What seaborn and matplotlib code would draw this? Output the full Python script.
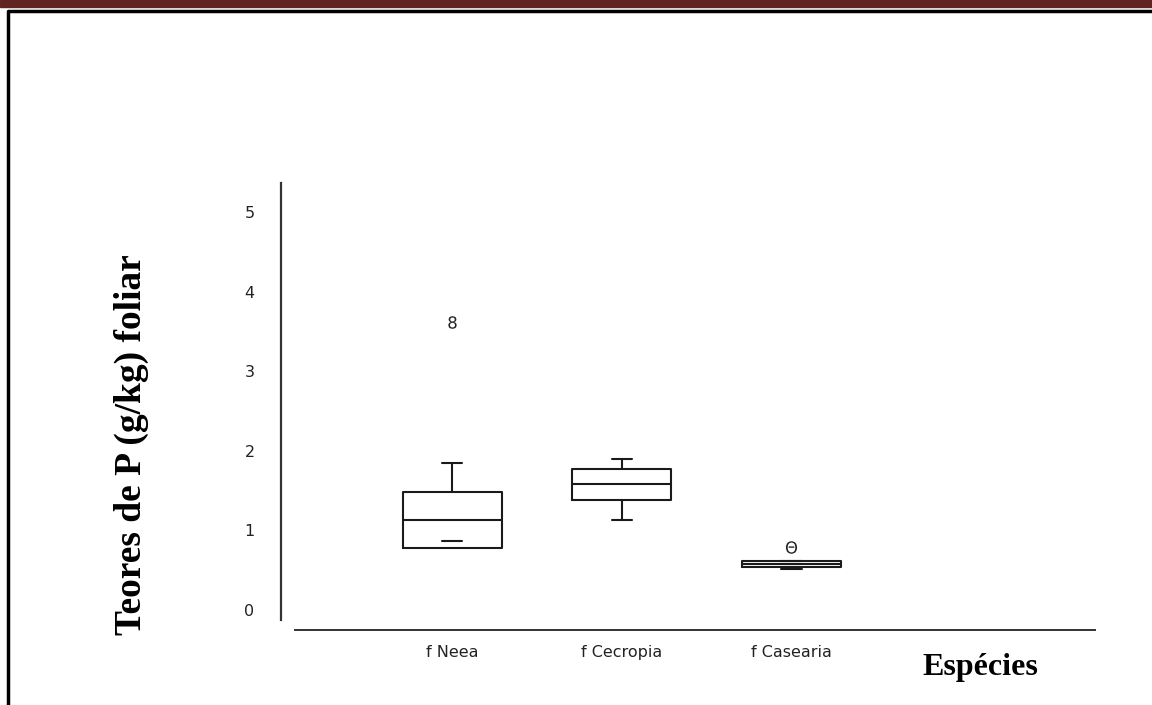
import matplotlib
matplotlib.use('Agg')
import matplotlib.pyplot as plt
import seaborn as sns
from matplotlib.lines import Line2D
from matplotlib.patches import Rectangle

# Box summary values (g/kg)
species = ['f Neea', 'f Cecropia', 'f Casearia']
q1 = [0.78, 1.38, 0.54]
median = [1.13, 1.58, 0.58]
q3 = [1.48, 1.77, 0.62]
whis_low = [0.87, 1.13, 0.52]
whis_high = [1.85, 1.90, 0.62]
outliers = [[3.62], [], [0.79]]
outlier_marks = ['$8$', 'o', r'$\Theta$']

y_ticks = [0, 1, 2, 3, 4, 5]

sns.set_style('white')
plt.rcParams['font.family'] = ['DejaVu Sans']

fig = plt.figure(figsize=(11.52, 7.05), dpi=100)
ax = fig.add_axes([281 / 1152, (705 - 620) / 705, (1095 - 281) / 1152, (620 - 183) / 705])

stats = []
for i in range(len(species)):
    stats.append({'label': species[i], 'q1': q1[i], 'med': median[i], 'q3': q3[i],
                  'whislo': whis_low[i], 'whishi': whis_high[i], 'fliers': outliers[i]})

line_kw = dict(color='#1a1a1a', linewidth=1.5)
art = ax.bxp(stats, positions=range(len(species)), widths=0.585,
             boxprops=line_kw, medianprops=line_kw, whiskerprops=line_kw,
             capprops=line_kw,
             flierprops=dict(markersize=9, markeredgewidth=0, color='#222222',
                             markeredgecolor='#222222', markerfacecolor='#222222'),
             capwidths=0.12)
# the lower whisker of Neea sits inside the box, only its cap shows
art['whiskers'][0].set_visible(False)
for fl, mk in zip(art['fliers'], outlier_marks):
    fl.set_marker(mk)

ax.set_xlim(-1.009, 3.79)
ax.set_ylim(-0.126, 5.364)
ax.set_yticks(y_ticks)
ax.set_xticks(range(len(species)))
ax.set_xticklabels(species)

sns.despine(ax=ax)
ax.spines['left'].set_color('#333333')
ax.spines['left'].set_linewidth(1.6)
ax.spines['bottom'].set_color('#333333')
ax.spines['bottom'].set_linewidth(1.4)
ax.spines['bottom'].set_position(('outward', 7.2))
ax.spines['bottom'].set_bounds(-0.926, 3.79)
ax.tick_params(axis='y', length=0, pad=19, labelsize=11.5, labelcolor='#222222')
ax.tick_params(axis='x', length=0, pad=11, labelsize=11.5, labelcolor='#222222')

serif = ['Liberation Serif', 'DejaVu Serif']
ax.set_ylabel('Teores de P (g/kg) foliar', family=serif, fontweight='bold',
              fontsize=27, labelpad=0, color='black')
ax.yaxis.set_label_coords((149 - 281) / (1095 - 281), (620 - 445) / (620 - 183))
fig.text(980 / 1152, 1 - 667 / 705, 'Espécies', family=serif,
         fontweight='bold', fontsize=23, ha='center', va='center', color='black')

# page decoration: dark red bar and black frame
fig.add_artist(Rectangle((0, 1 - 7 / 705), 1, 7 / 705, transform=fig.transFigure,
                         color='#622423', zorder=0))
fig.add_artist(Line2D([8 / 1152, 8 / 1152, 1], [0, 1 - 11 / 705, 1 - 11 / 705],
                      transform=fig.transFigure, color='black', linewidth=2.5))

fig.savefig('out.png', dpi=100)
